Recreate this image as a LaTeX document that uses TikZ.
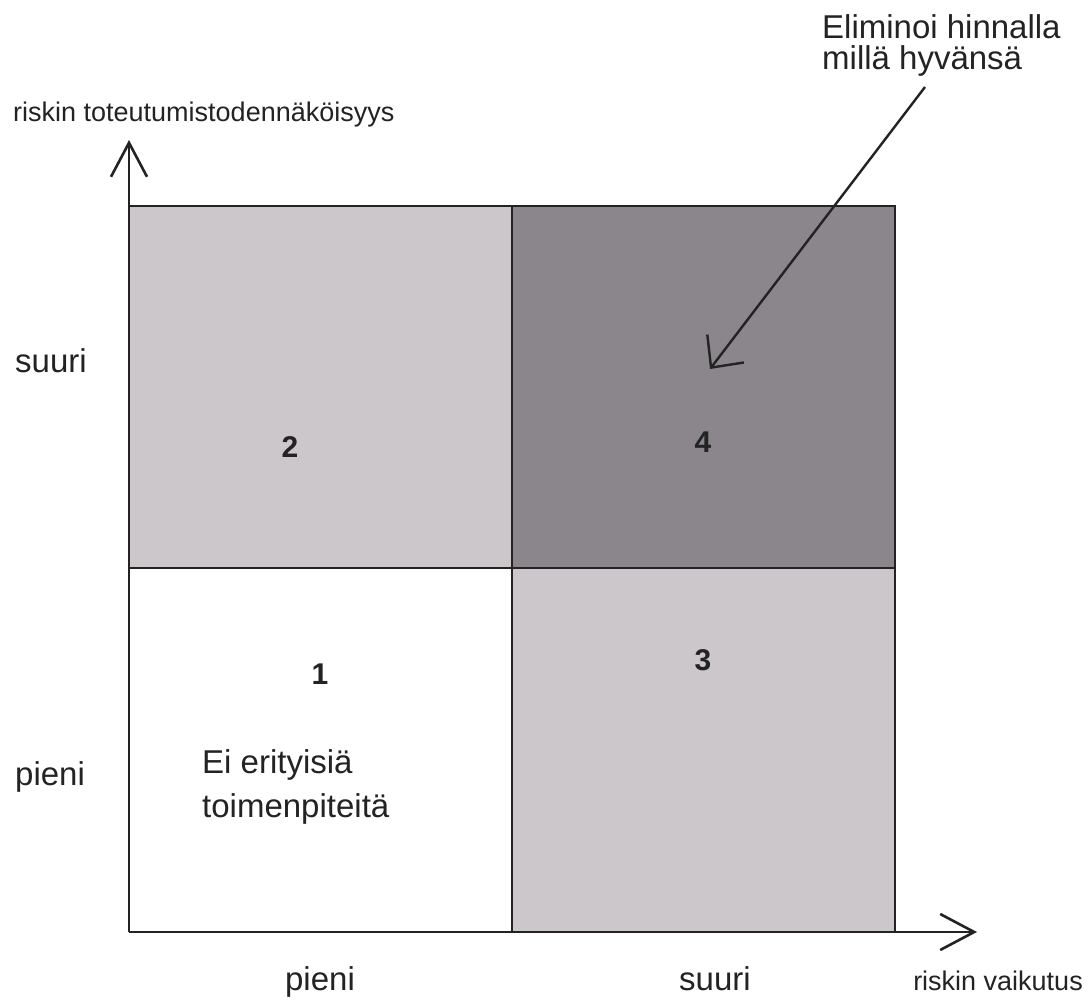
\documentclass[tikz,border=0pt]{standalone}
\usepackage{fontspec}
\setmainfont{Liberation Sans}
\usetikzlibrary{arrows.meta}
\definecolor{lightcell}{RGB}{204,199,202}
\definecolor{darkcell}{RGB}{138,134,139}
\definecolor{ink}{RGB}{35,35,35}
\begin{document}
\begin{tikzpicture}[x=1pt,y=-1pt,
  gridline/.style={draw=ink,line width=2.6pt},
  axisline/.style={draw=ink,line width=2.6pt,-{Straight Barb[length=34pt,width=36pt,line width=2.6pt]}},
  pointer/.style={draw=ink,line width=2.4pt,-{Straight Barb[length=24pt,width=46pt,line width=2.4pt]}},
  lab/.style={inner sep=0pt,font=\fontsize{33}{38}\selectfont,text=ink},
  smalllab/.style={inner sep=0pt,font=\fontsize{27}{32}\selectfont,text=ink},
  num/.style={inner sep=0pt,font=\fontsize{30}{34}\selectfont\bfseries,text=ink}]
\useasboundingbox (0,0) rectangle (1090,1003);
\fill[white] (0,0) rectangle (1090,1003);
% cells
\fill[lightcell] (129,206) rectangle (512,568);
\fill[darkcell] (512,206) rectangle (895,568);
\fill[lightcell] (512,568) rectangle (895,932);
\draw[gridline] (129,206) -- (895,206) -- (895,932);
\draw[gridline] (129,568) -- (895,568);
\draw[gridline] (512,206) -- (512,932);
% axes
\coordinate (origin) at (129,932);
\coordinate (ytip) at (129,140);
\coordinate (xtip) at (977,932);
\draw[axisline] (origin) -- (ytip);
\draw[axisline] (origin) -- (xtip);
% axis titles
\node[smalllab,anchor=base west] (ytitle) at (13,122) {riskin toteutumistodennäköisyys};
\node[smalllab,anchor=base east] (xtitle) at (1083,990) {riskin vaikutus};
% row / column labels
\node[lab,anchor=base west] (ybig) at (15,372) {suuri};
\node[lab,anchor=base west] (ysmall) at (15,785) {pieni};
\node[lab,anchor=base] (xsmall) at (320,990) {pieni};
\node[lab,anchor=base] (xbig) at (715,990) {suuri};
% numbers
\node[num] (n2) at (290,447) {2};
\node[num] (n4) at (703,442) {4};
\node[num] (n1) at (320,674) {1};
\node[num] (n3) at (703,660) {3};
% notes
\node[lab,anchor=base west,align=left] (note1) at (202,773) {Ei erityisiä};
\node[lab,anchor=base west] (note1b) at (202,817) {toimenpiteitä};
\node[lab,anchor=base west] (elim1) at (822,39) {Eliminoi hinnalla};
\node[lab,anchor=base west] (elim2) at (822,70) {millä hyvänsä};
\coordinate (pstart) at (925,87);
\coordinate (ptip) at (710,369);
\draw[pointer] (pstart) -- (ptip);
\end{tikzpicture}
\end{document}
